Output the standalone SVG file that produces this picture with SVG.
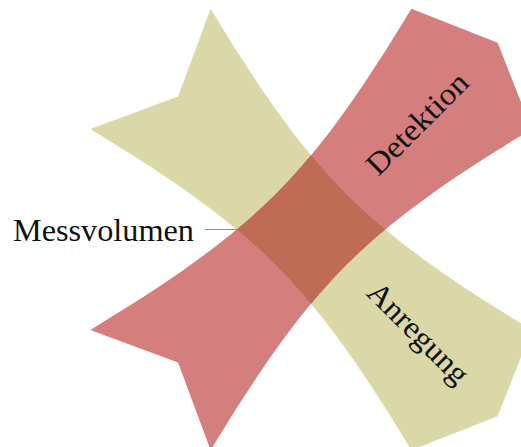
<svg xmlns="http://www.w3.org/2000/svg" xmlns:xlink="http://www.w3.org/1999/xlink" width="521" height="447" viewBox="0 0 521 447">
  <style>
    .olive { fill: #dbd8a8; }
    .red { fill: #d47e7e; }
    .both { fill: #c06c55; }
    .lbl { font-family: "Liberation Serif", "DejaVu Serif", serif; font-size: 31px; fill: #111; }
    .pin { stroke: #808080; stroke-width: 0.9; fill: none; }
  </style>
  <defs>
    <path id="beam" d="M -227,-85.04 L -188,0 L -227,85.04 L -200,78.57 L -180,73.99 L -160,69.65 L -140,65.57 L -120,61.83 L -100,58.47 L -80,55.57 L -60,53.2 L -40,51.45 L -20,50.37 L 0,50 L 20,50.37 L 40,51.45 L 60,53.2 L 80,55.57 L 100,58.47 L 120,61.83 L 140,65.57 L 160,69.65 L 180,73.99 L 200,78.57 L 227,85.04 L 264,0 L 227,-85.04 L 200,-78.57 L 180,-73.99 L 160,-69.65 L 140,-65.57 L 120,-61.83 L 100,-58.47 L 80,-55.57 L 60,-53.2 L 40,-51.45 L 20,-50.37 L 0,-50 L -20,-50.37 L -40,-51.45 L -60,-53.2 L -80,-55.57 L -100,-58.47 L -120,-61.83 L -140,-65.57 L -160,-69.65 L -180,-73.99 L -200,-78.57 Z"/>
    <clipPath id="clipOlive">
      <use xlink:href="#beam" href="#beam" transform="translate(311,229.5) rotate(45)"/>
    </clipPath>
  </defs>

  <g id="anregung">
    <use xlink:href="#beam" href="#beam" class="olive" transform="translate(311,229.5) rotate(45)"/>
  </g>
  <g id="detektion">
    <use xlink:href="#beam" href="#beam" class="red" transform="translate(311,229.5) rotate(-45)"/>
  </g>
  <g id="messvolumen" clip-path="url(#clipOlive)">
    <use xlink:href="#beam" href="#beam" class="both" transform="translate(311,229.5) rotate(-45)"/>
  </g>

  <g id="connectors">
    <line class="pin" x1="205" y1="229.5" x2="300" y2="229.5"/>
  </g>

  <g id="labels">
    <text class="lbl" x="194" y="240.5" text-anchor="end" textLength="181" lengthAdjust="spacingAndGlyphs">Messvolumen</text>
    <text class="lbl" text-anchor="middle" transform="translate(424.5,130.8) rotate(-45)" textLength="131" lengthAdjust="spacingAndGlyphs">Detektion</text>
    <text class="lbl" text-anchor="middle" transform="translate(411.1,340.2) rotate(45)" textLength="130" lengthAdjust="spacingAndGlyphs">Anregung</text>
  </g>
</svg>
